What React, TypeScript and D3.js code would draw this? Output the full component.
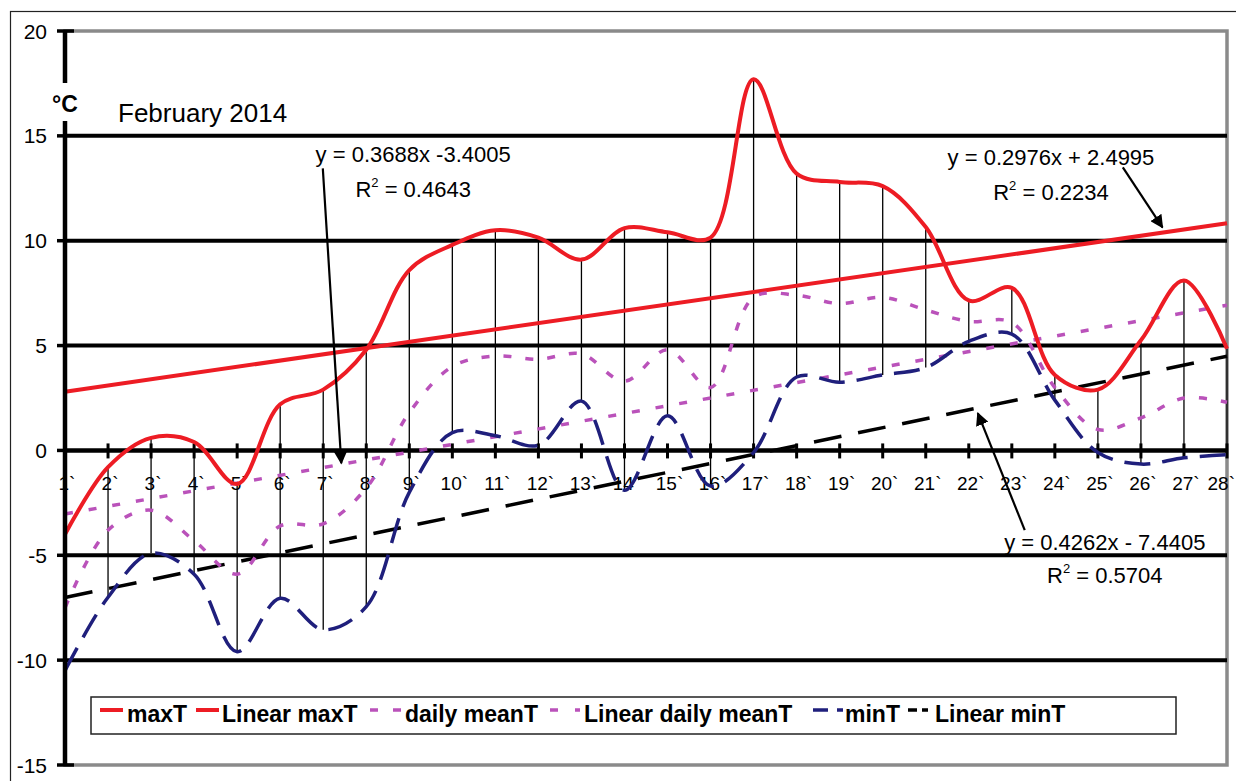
import React from 'react';
import * as d3 from 'd3';

const W = 1236;
const H = 781;

// Categories (days of February 2014)
const days = [1, 2, 3, 4, 5, 6, 7, 8, 9, 10, 11, 12, 13, 14, 15, 16, 17, 18, 19, 20, 21, 22, 23, 24, 25, 26, 27, 28];
const dayLabels = ["1`", "2`", "3`", "4`", "5`", "6`", "7`", "8`", "9`", "10`", "11`", "12`", "13`", "14`", "15`", "16`", "17`", "18`", "19`", "20`", "21`", "22`", "23`", "24`", "25`", "26`", "27`", "28`"];

// Series values (°C)
const maxT = [-4.0, -0.8, 0.6, 0.4, -1.6, 2.2, 2.9, 4.8, 8.6, 9.8, 10.5, 10.15, 9.1, 10.6, 10.4, 10.15, 17.7, 13.2, 12.8, 12.6, 10.65, 7.15, 7.75, 3.6, 2.9, 5.25, 8.1, 4.85];
const meanT = [-7.5, -3.8, -2.85, -4.3, -5.9, -3.6, -3.5, -1.8, 1.8, 4.0, 4.5, 4.35, 4.6, 3.3, 4.8, 3.0, 7.3, 7.4, 7.0, 7.3, 6.7, 6.15, 6.1, 3.0, 1.0, 1.55, 2.5, 2.3];
const minT = [-10.5, -7.0, -4.9, -5.9, -9.6, -7.05, -8.55, -7.45, -2.0, 0.85, 0.7, 0.25, 2.35, -1.9, 1.65, -1.7, -0.1, 3.5, 3.25, 3.6, 3.95, 5.2, 5.55, 2.4, -0.1, -0.65, -0.35, -0.2];

// Linear trendline coefficients [slope, intercept] and R²
const trendMax = [0.2976, 2.4995];
const trendMean = [0.3688, -3.4005];
const trendMin = [0.4262, -7.4405];
const r2Max = "0.2234";
const r2Mean = "0.4643";
const r2Min = "0.5704";

// Y axis ticks
const yTicks = [20, 15, 10, 5, 0, -5, -10, -15];
const gridValues = [15, 10, 5, -5, -10];

const FONT = "'Liberation Sans', Arial, Helvetica, sans-serif";
const RED = "#ED1C24";
const PURPLE = "#BA52BA";
const NAVY = "#1F1F7C";

export default function App() {
  const x = d3.scaleLinear().domain([1, 28]).range([65, 1227]);
  const y = d3.scaleLinear().domain([-15, 20]).range([765, 31]);

  const smooth = (vals: number[]) =>
    d3.line<number>()
      .x((_, i) => x(days[i]))
      .y((v) => y(v))
      .curve(d3.curveCatmullRom.alpha(0.5))(vals) as string;

  const trend = (c: number[]) =>
    d3.line<number>()
      .x((d) => x(d))
      .y((d) => y(c[0] * d + c[1]))([days[0], days[days.length - 1]]) as string;

  const tv = (c: number[], d: number) => c[0] * d + c[1];

  // annotation anchors in data coordinates
  const eq1 = { day: 9.09, v1: 13.75, v2: 12.08 };
  const eq2 = { day: 23.91, v1: 13.61, v2: 11.94 };
  const eq3 = { day: 25.16, v1: -4.75, v2: -6.32 };
  const arrows = [
    { d0: 6.99, v0: 13.45, d1: 7.42, v1: tv(trendMean, 7.42) + 0.05 },
    { d0: 25.58, v0: 13.5, d1: 26.5, v1: tv(trendMax, 26.5) + 0.25 },
    { d0: 23.3, v0: -3.8, d1: 22.21, v1: tv(trendMin, 22.21) - 0.25 },
  ];

  const fmtEq = (c: number[]) => {
    const s = c[0].toFixed(4);
    const b = c[1];
    return b >= 0 ? `y = ${s}x + ${b.toFixed(4)}` : `y = ${s}x - ${Math.abs(b).toFixed(4)}`;
  };

  const eqText = (e: { day: number; v1: number; v2: number }, c: number[], r2: string, label1?: string) => (
    <g fontFamily={FONT} fontSize={22} fill="#000" textAnchor="middle">
      <text x={x(e.day)} y={y(e.v1)}>{label1 ?? fmtEq(c)}</text>
      <text x={x(e.day)} y={y(e.v2)}>
        R<tspan fontSize={13} dy={-10}>2</tspan><tspan dy={10}> = {r2}</tspan>
      </text>
    </g>
  );

  const legendY = 710;
  const legendTextY = 722;
  const lastIdx = days.length - 1;

  return (
    <svg width={W} height={H} style={{ position: 'absolute', left: 0, top: 0, background: '#fff' }}>
      <defs>
        <marker id="arr" viewBox="0 0 10 10" refX="9" refY="5" markerWidth="6" markerHeight="6" orient="auto" markerUnits="strokeWidth">
          <path d="M0,0 L10,5 L0,10 z" fill="#000" />
        </marker>
      </defs>
      <rect x={0} y={0} width={W} height={H} fill="#fff" />
      {/* outer chart border */}
      <rect x={10.5} y={11.5} width={W + 20} height={H + 20} fill="none" stroke="#222" strokeWidth={1.2} />

      {/* plot area border */}
      <rect x={x(1)} y={y(20)} width={x(28) - x(1)} height={y(-15) - y(20)} fill="#fff" stroke="#8a8a8a" strokeWidth={3.5} />

      {/* gridlines */}
      {gridValues.map((g) => (
        <line key={g} x1={x(1)} x2={x(28)} y1={y(g)} y2={y(g)} stroke="#000" strokeWidth={4} />
      ))}

      {/* x axis line at 0 */}
      <line x1={x(1)} x2={x(28)} y1={y(0)} y2={y(0)} stroke="#000" strokeWidth={4.5} />
      {days.map((d) => (
        <line key={'xt' + d} x1={x(d)} x2={x(d)} y1={y(0) - 7} y2={y(0) + 8} stroke="#000" strokeWidth={3} />
      ))}

      {/* x labels */}
      <g fontFamily={FONT} fontSize={19} fill="#000">
        {days.map((d, i) => (
          <text key={'xl' + d} x={i === lastIdx ? W - 1 : x(d) + 2} y={y(0) + 40} textAnchor={i === lastIdx ? 'end' : 'middle'}>{dayLabels[i]}</text>
        ))}
      </g>

      {/* high-low lines */}
      {days.map((d, i) => (
        <line key={'hl' + d} x1={x(d)} x2={x(d)} y1={y(Math.max(maxT[i], meanT[i], minT[i]))} y2={y(Math.min(maxT[i], meanT[i], minT[i]))} stroke="#000" strokeWidth={1.3} />
      ))}

      {/* trendlines */}
      <path d={trend(trendMax)} fill="none" stroke={RED} strokeWidth={4} />
      <path d={trend(trendMean)} fill="none" stroke={PURPLE} strokeWidth={3.5} strokeDasharray="8 16" />
      <path d={trend(trendMin)} fill="none" stroke="#000" strokeWidth={3.5} strokeDasharray="28 17" />

      {/* series */}
      <path d={smooth(meanT)} fill="none" stroke={PURPLE} strokeWidth={3.5} strokeDasharray="8 14" />
      <path d={smooth(minT)} fill="none" stroke={NAVY} strokeWidth={3.5} strokeDasharray="26 12" />
      <path d={smooth(maxT)} fill="none" stroke={RED} strokeWidth={4} />

      {/* y axis */}
      <line x1={x(1)} x2={x(1)} y1={y(20) - 1} y2={y(-15) + 1} stroke="#000" strokeWidth={4.5} />
      {yTicks.map((t) => (
        <line key={'yt' + t} x1={57} x2={t === 20 || t === -15 ? 74 : 65} y1={y(t)} y2={y(t)} stroke="#000" strokeWidth={3.5} />
      ))}
      <g fontFamily={FONT} fontSize={21} fill="#000" textAnchor="end">
        {yTicks.map((t) => (
          <text key={'yl' + t} x={47} y={y(t) + 7.5}>{t}</text>
        ))}
      </g>

      {/* axis unit label */}
      <rect x={48} y={83} width={34} height={38} fill="#fff" />
      <text x={65} y={112} fontFamily={FONT} fontSize={23} fontWeight="bold" textAnchor="middle" fill="#000">°C</text>

      {/* title */}
      <text x={118} y={122} fontFamily={FONT} fontSize={26} fill="#000">February 2014</text>

      {/* trendline equations */}
      {eqText(eq1, trendMean, r2Mean, `y = ${trendMean[0].toFixed(4)}x -${Math.abs(trendMean[1]).toFixed(4)}`)}
      {eqText(eq2, trendMax, r2Max)}
      {eqText(eq3, trendMin, r2Min)}

      {/* arrows */}
      {arrows.map((a, i) => (
        <line key={'ar' + i} x1={x(a.d0)} y1={y(a.v0)} x2={x(a.d1)} y2={y(a.v1)} stroke="#000" strokeWidth={2.2} markerEnd="url(#arr)" />
      ))}

      {/* legend */}
      <rect x={91} y={697} width={1085} height={37} fill="#fff" stroke="#222" strokeWidth={1.5} />
      <g fontFamily={FONT} fontSize={23} fontWeight="bold" fill="#000">
        <line x1={100} x2={123} y1={legendY} y2={legendY} stroke={RED} strokeWidth={4} />
        <text x={127} y={legendTextY}>maxT</text>
        <line x1={196} x2={219} y1={legendY} y2={legendY} stroke={RED} strokeWidth={4} />
        <text x={222} y={legendTextY}>Linear maxT</text>
        <line x1={370} x2={402} y1={legendY} y2={legendY} stroke={PURPLE} strokeWidth={3.5} strokeDasharray="8 15" />
        <text x={405} y={legendTextY}>daily meanT</text>
        <line x1={550} x2={580} y1={legendY} y2={legendY} stroke={PURPLE} strokeWidth={3.5} strokeDasharray="8 17" />
        <text x={584} y={legendTextY}>Linear daily meanT</text>
        <line x1={813} x2={843} y1={legendY} y2={legendY} stroke={NAVY} strokeWidth={3.5} strokeDasharray="15 9" />
        <text x={845} y={legendTextY}>minT</text>
        <line x1={908} x2={928} y1={legendY} y2={legendY} stroke="#000" strokeWidth={3.5} strokeDasharray="9 5" />
        <text x={935} y={legendTextY}>Linear minT</text>
      </g>
    </svg>
  );
}
